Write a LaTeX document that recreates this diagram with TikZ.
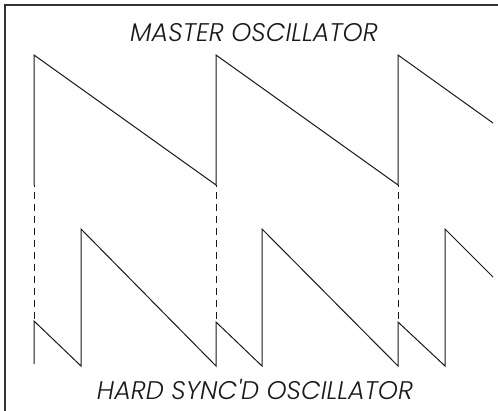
\documentclass[tikz,border=0pt]{standalone}
\usepackage{fontspec}
\usetikzlibrary{calc}
\newfontfamily\labelfont{Poppins Light Italic}
\definecolor{ink}{HTML}{1A1A1A}
\definecolor{framec}{HTML}{333333}

\begin{document}
\begin{tikzpicture}[x=1pt, y=-1pt, line join=miter,
    every node/.style={text=ink},
    wave/.style={ink, line width=1pt},
    syncline/.style={ink, line width=1pt, dash pattern=on 7pt off 5pt, dash phase=5pt},
    frameline/.style={framec, line width=1.3pt},
    caption/.style={font=\labelfont\fontsize{25.5}{29}\selectfont, inner sep=0pt}
]

% ---------------- canvas 498 x 410, white ----------------
\fill[white] (0,0) rectangle (498,410);
\useasboundingbox (0,0) rectangle (498,410);

% ---------------- frame, only top and left edges show ----------------
\draw[frameline] (5,412) -- (5,5) -- (500,5);

% ---------------- labels ----------------
\node[caption] (mlabel) at (254,33) {MASTER OSCILLATOR};
\node[caption] (slabel) at (255,389) {HARD SYNC'D OSCILLATOR};

% ================= master saw =================
\coordinate (m1) at (34,185);
\coordinate (m2) at (216,185);
\coordinate (m3) at (398,185);
\draw[wave] (m1) -- (34,55) -- (m2) -- (216,55) -- (m3) -- (398,55) -- (493,123);

% ================= slave saw, reset at each master edge =================
\coordinate (s1) at (34,321);
\coordinate (s2) at (216,322);
\coordinate (s3) at (398,322);
\draw[wave] (34,364) -- (s1) -- (81,366) -- (81,229) -- (216,366) -- (s2)
    -- (262,366) -- (262,229) -- (398,366) -- (s3) -- (445,366) -- (445,229) -- (493,277);

% sync pulses
\foreach \i in {1,2,3} {
    \draw[syncline] (m\i) -- (s\i);
}

\end{tikzpicture}
\end{document}
